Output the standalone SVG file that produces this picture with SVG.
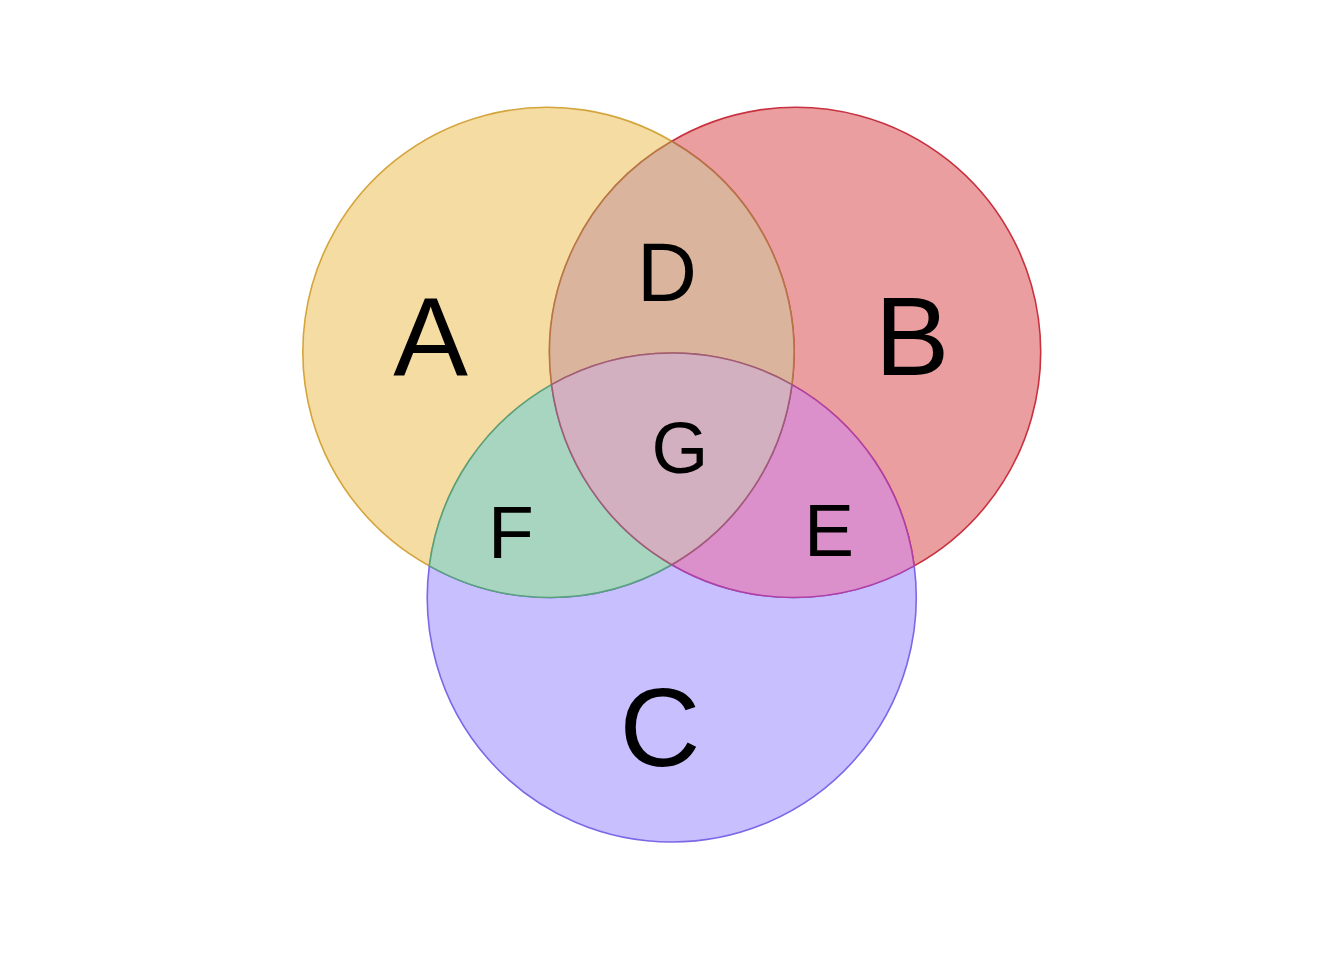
<svg xmlns="http://www.w3.org/2000/svg" width="1344" height="960" viewBox="0 0 1344 960">
<style>
.r{stroke-width:1.6;stroke-linejoin:round}
.t{font-family:"Liberation Sans",Arial,sans-serif;fill:#000;text-anchor:middle}
.big{font-size:112px}
.sm{font-size:75px}
</style>
<rect width="1344" height="960" fill="#fff"/>
<g id="regionA">
<path class="r" fill="#F5DCA2" stroke="#D4A53C" d="M671.75 141.3 A244.5 244.5 0 1 0 429.3 565.9 A244.5 244.5 0 0 1 551.54 384.59 A244.5 244.5 0 0 1 671.75 141.3 Z"/>
<text class="t big" x="430.5" y="375">A</text>
</g>
<g id="regionB">
<path class="r" fill="#EB9EA0" stroke="#C8323F" d="M671.75 141.3 A244.5 244.5 0 1 1 914.2 565.9 A244.5 244.5 0 0 0 791.96 384.59 A244.5 244.5 0 0 0 671.75 141.3 Z"/>
<text class="t big" x="912" y="375">B</text>
</g>
<g id="regionC">
<path class="r" fill="#C8BFFF" stroke="#7B68E6" d="M429.3 565.9 A244.5 244.5 0 1 0 914.2 565.9 A244.5 244.5 0 0 1 671.75 564.7 A244.5 244.5 0 0 1 429.3 565.9 Z"/>
<text class="t big" x="660" y="766">C</text>
</g>
<g id="regionD">
<path class="r" fill="#DBB49D" stroke="#B87548" d="M671.75 141.3 A244.5 244.5 0 0 1 791.96 384.59 A244.5 244.5 0 0 0 551.54 384.59 A244.5 244.5 0 0 1 671.75 141.3 Z"/>
<text class="t" style="font-size:83px" x="667" y="300.5">D</text>
</g>
<g id="regionF">
<path class="r" fill="#A8D5C0" stroke="#58A07E" d="M551.54 384.59 A244.5 244.5 0 0 0 671.75 564.7 A244.5 244.5 0 0 1 429.3 565.9 A244.5 244.5 0 0 1 551.54 384.59 Z"/>
<text class="t sm" x="511" y="558">F</text>
</g>
<g id="regionE">
<path class="r" fill="#DB90CC" stroke="#B040A6" d="M791.96 384.59 A244.5 244.5 0 0 1 914.2 565.9 A244.5 244.5 0 0 1 671.75 564.7 A244.5 244.5 0 0 0 791.96 384.59 Z"/>
<text class="t sm" x="829" y="556">E</text>
</g>
<g id="regionG">
<path class="r" fill="#D2B0C0" stroke="#A05C78" d="M551.54 384.59 A244.5 244.5 0 0 1 791.96 384.59 A244.5 244.5 0 0 1 671.75 564.7 A244.5 244.5 0 0 1 551.54 384.59 Z"/>
<text class="t" style="font-size:73px" x="680" y="473">G</text>
</g>
<g id="connectors"></g>
</svg>
